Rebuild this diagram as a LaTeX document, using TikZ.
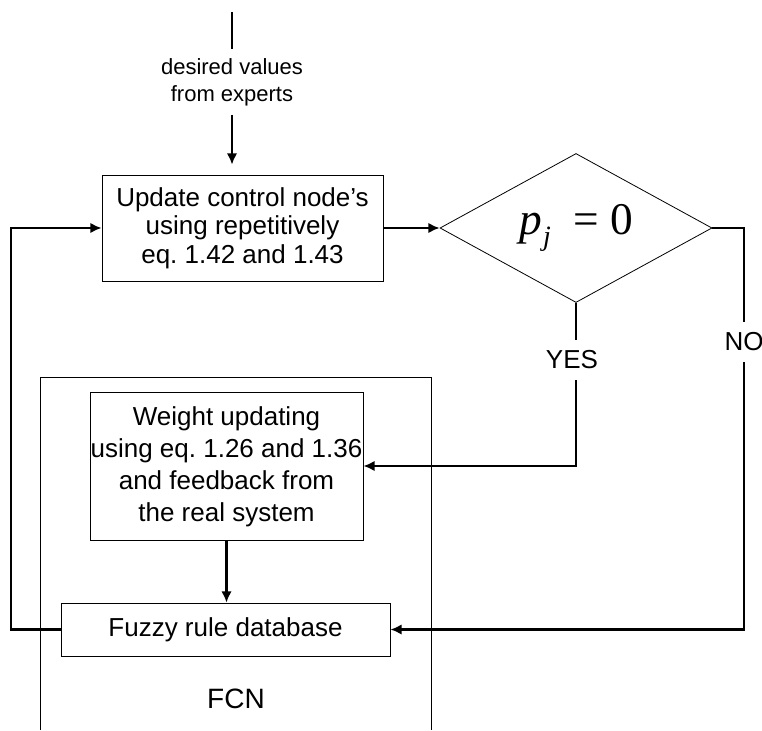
\documentclass[tikz,border=0pt]{standalone}
\usepackage{fontspec}
\setmainfont{Liberation Sans}
\newfontfamily\eqfont{Liberation Serif}
\usetikzlibrary{arrows.meta, shapes.geometric}
\begin{document}
\frenchspacing
\begin{tikzpicture}[x=0.75pt, y=-0.75pt, >={Latex[length=8.5pt,width=8pt]},
  box/.style={draw, line width=0.6pt, inner sep=0pt, align=center, font=\fontsize{19.5}{21.5}\selectfont},
  flow/.style={line width=2pt},
  lbl/.style={inner sep=0pt, font=\fontsize{19.5}{23}\selectfont}]
\useasboundingbox (0,0) rectangle (762,730);
% FCN frame, open at the bottom
\draw[line width=0.6pt] (40,730) -- (40,377) -- (431,377) -- (431,730);
\node[lbl, font=\fontsize{21}{24}\selectfont] (fcn) at (236, 699) {FCN};
\node[box, minimum width=210.75pt, minimum height=79.5pt] (update) at (242.5, 228) {Update control node's\\using repetitively\\eq. 1.42 and 1.43};
\node[draw, line width=0.6pt, shape=diamond, shape aspect=1.83, inner sep=0pt, minimum width=204pt, minimum height=111.75pt,
  font=\eqfont\fontsize{34}{36}\selectfont] (test) at (576, 228)
  {\itshape p\kern1pt\raisebox{-8pt}{\fontsize{21}{22}\selectfont j}\upshape\ \ = 0};
\node[box, minimum width=204.75pt, minimum height=111pt, font=\fontsize{19.5}{24}\selectfont] (weight) at (226.5, 466) {\rule{0pt}{16pt}Weight updating\\using eq. 1.26 and 1.36\\and feedback from\\the real system};
\node[box, minimum width=246.75pt, minimum height=39.75pt] (rules) at (225.5, 629.5) {Fuzzy rule database};
\node[lbl, font=\fontsize{16.5}{20}\selectfont, align=center, minimum height=49pt] (desired) at (232, 82) {desired values\\from experts};
\node[lbl, minimum height=30pt] (yes) at (572, 360) {YES};
\node[lbl, minimum height=30pt] (no) at (744, 342) {NO};
\coordinate (top) at (232, 12);
\coordinate (left) at (11, 0);
\draw[flow] (top) -- (desired.north);
\draw[flow, ->, shorten >=7.5pt] (desired.south) -- (desired.south |- update.north);
\draw[flow, ->] (update.east) -- (test.west);
\draw[flow] (test.south) -- (test.south |- yes.north);
\draw[flow, ->] (test.south |- yes.south) |- (weight.east);
\draw[flow] (test.east) -| (no.north);
\draw[flow, ->] (no.south) |- (rules.east);
\draw[flow, ->] (weight.south) -- (weight.south |- rules.north);
\draw[flow, ->] (rules.west) -- (rules.west -| left) |- (update.west);
\end{tikzpicture}
\end{document}
